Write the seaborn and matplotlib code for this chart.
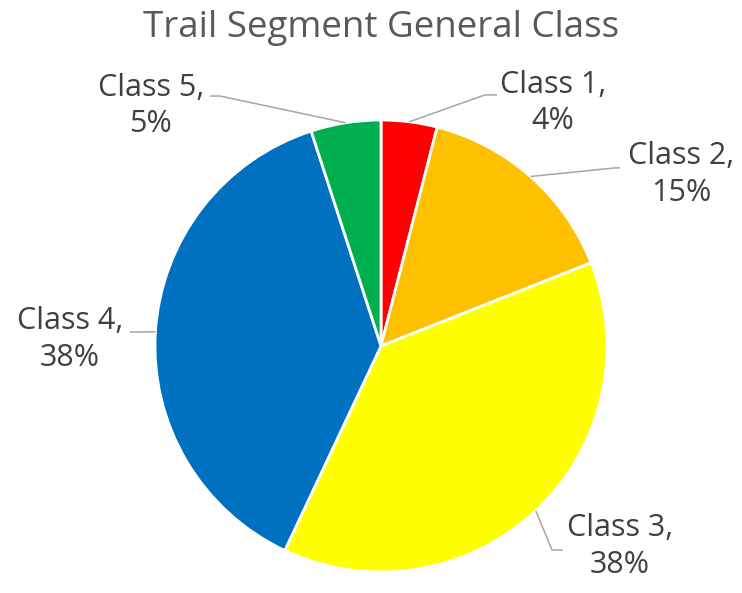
"""
Trail segment general class pie chart
"""

import numpy as np
import matplotlib.pyplot as plt
import seaborn as sns

# data
classes = ["Class 1", "Class 2", "Class 3", "Class 4", "Class 5"]
shares = [4, 15, 38, 38, 5]
colors = ["#FF0000", "#FFC000", "#FFFF00", "#0070C0", "#00B050"]

# label block centres and leader elbows (layout, in pie-radius units)
label_pos = [(0.76, 1.075), (1.327, 0.757), (1.058, -0.889), (-1.376, 0.027), (-1.018, 1.062)]
elbows = [
    [(0.460, 1.111), (0.513, 1.111)],
    [(1.035, 0.788), (1.058, 0.788)],
    [(0.757, -0.903), (0.805, -0.903)],
    [(-1.066, 0.062), (-1.111, 0.062)],
    [(-0.712, 1.106), (-0.757, 1.106)],
]

sns.set_style("white")
plt.rcParams["font.family"] = ["Open Sans", "DejaVu Sans"]

fig = plt.figure(figsize=(7.42, 5.93), dpi=100)
ax = fig.add_axes([0, 0, 1, 1])

wedges, _ = ax.pie(
    shares,
    colors=colors,
    startangle=90,
    counterclock=False,
    radius=1,
    wedgeprops=dict(edgecolor="white", linewidth=2),
)

total = sum(shares)
for i, w in enumerate(wedges):
    mid = np.deg2rad((w.theta1 + w.theta2) / 2)
    start = (np.cos(mid), np.sin(mid))
    pts = [start] + elbows[i]
    ax.plot([p[0] for p in pts], [p[1] for p in pts], color="#A6A6A6", lw=1.1,
            solid_capstyle="butt", zorder=3)
    pct = round(shares[i] / total * 100)
    ax.text(label_pos[i][0], label_pos[i][1], f"{classes[i]},\n{pct}%",
            ha="center", va="center", fontsize=22, color="#404040",
            linespacing=1.3)

ax.set_xlim(-381 / 226, (742 - 381) / 226)
ax.set_ylim(-(593 - 346) / 226, 346 / 226)
ax.set_aspect("auto")
ax.axis("off")

fig.text(381 / 742, 1 - 28 / 593, "Trail Segment General Class",
         ha="center", va="center", fontsize=26.5, color="#595959")

fig.savefig("out.png", dpi=100)
plt.close(fig)
